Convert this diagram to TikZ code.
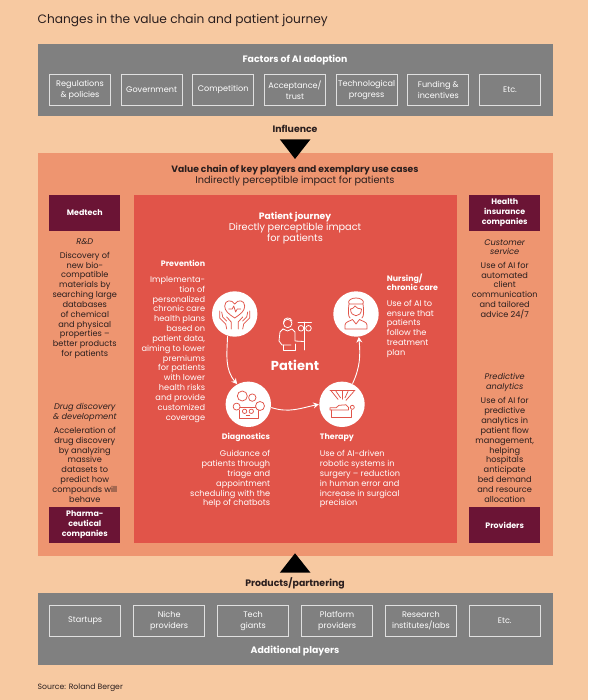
\documentclass[tikz,border=0pt]{standalone}
\usepackage{fontspec}
\setmainfont{Poppins}
\usetikzlibrary{arrows.meta}
\definecolor{pagebg}{HTML}{F7C9A1}
\definecolor{panelgray}{HTML}{808080}
\definecolor{chainorange}{HTML}{EE9570}
\definecolor{journeyred}{HTML}{E15449}
\definecolor{playermaroon}{HTML}{6B1435}
\definecolor{darktext}{HTML}{2A1E1E}
\newcommand{\leadsize}{\fontsize{9.75}{11.1}\selectfont}
\tikzset{
	factorbox/.style={draw=white!88!black, line width=1pt, text=white, align=center, inner sep=0pt,
		minimum width=61pt, minimum height=31pt, font=\fontsize{8.1}{11}\selectfont},
	partnerbox/.style={factorbox, minimum width=71.5pt},
	playerbox/.style={fill=playermaroon, text=white, align=center, inner sep=0pt,
		minimum width=71pt, minimum height=36.5pt, font=\fontsize{7.9}{10}\selectfont\bfseries},
	heading/.style={inner sep=0pt, align=center, font=\fontsize{9.35}{11}\selectfont\bfseries},
	steplabel/.style={inner sep=0pt, text=white, font=\fontsize{7.9}{9.8}\selectfont\bfseries},
	bodytext/.style={inner sep=0pt, font=\fontsize{8.2}{9.83}\selectfont},
	sidetext/.style={bodytext, align=center, text=darktext},
	stepcircle/.style={circle, fill=white, minimum size=45.4pt, inner sep=0pt, outer sep=0.5pt},
	iconline/.style={draw=journeyred, line width=0.75pt, line join=round, line cap=round},
	journeyarrow/.style={draw=white, line width=0.9pt, ->, >={Stealth[length=5.5pt,width=6pt,inset=1.8pt]}},
}
\begin{document}
\begin{tikzpicture}[x=1pt, y=-1pt]
	\useasboundingbox (0,0) rectangle (588,700);
	\fill[pagebg] (0,0) rectangle (588,700);
	\node[anchor=west, inner sep=0pt, text=darktext, font=\fontsize{12.2}{15}\selectfont] (title) at (37.5,21) {Changes in the value chain and patient journey};

	% Factors of AI adoption
	\fill[panelgray] (37.5,44.3) rectangle (553,115.7);
	\node[heading, text=white] (factors) at (295,60) {Factors of AI adoption};
	\node[factorbox] (regulations) at (80,89.8) {Regulations\\\& policies};
	\node[factorbox] (government) at (151.6,89.8) {Government};
	\node[factorbox] (competition) at (223.2,89.8) {Competition};
	\node[factorbox] (acceptance) at (295,89.8) {Acceptance/\\trust};
	\node[factorbox] (technological) at (366.6,89.8) {Technological\\progress};
	\node[factorbox] (funding) at (438.3,89.8) {Funding \&\\incentives};
	\node[factorbox] (etcfactor) at (510,89.8) {Etc.};

	% Value chain
	\fill[chainorange] (37.5,153) rectangle (553,556);
	\node[heading, text=darktext] (influence) at (295,128.5) {Influence};
	\fill[black] (279.8,139.3) -- (310.5,139.3) -- (295,159) -- cycle;
	\node[inner sep=0pt, align=center, text=darktext, font=\leadsize] (chain) at (295,175.8) {{\fontsize{9.2}{11.1}\selectfont\bfseries Value chain of key players and exemplary use cases}\\Indirectly perceptible impact for patients};

	% Key players
	\node[playerbox] (medtech) at (84.8,212.8) {Medtech};
	\node[playerbox] (pharma) at (84.8,525) {Pharma-\\ceutical\\companies};
	\node[playerbox] (insurance) at (504.7,212.8) {Health\\insurance\\companies};
	\node[playerbox] (providers) at (504.7,525) {Providers};

	% Left column
	\node[sidetext] (rnd) at (84.8,241.7) {\itshape R\&D};
	\node[sidetext] (rndtext) at (84.8,305.3) {Discovery of\\new bio-\\compatible\\materials by\\searching large\\databases\\of chemical\\and physical\\properties --\\better products\\for patients};
	\node[sidetext] (drug) at (84.8,412.7) {\itshape Drug discovery\\\itshape \& development};
	\node[sidetext] (drugtext) at (84.8,464.8) {Acceleration of\\drug discovery\\by analyzing\\massive\\datasets to\\predict how\\compounds will\\behave};

	% Right column
	\node[sidetext] (service) at (504.7,247.2) {\itshape Customer\\\itshape service};
	\node[sidetext] (servicetext) at (504.7,290.4) {Use of AI for\\automated\\client\\communication\\and tailored\\advice 24/7};
	\node[sidetext] (predictive) at (504.7,382.6) {\itshape Predictive\\\itshape analytics};
	\node[sidetext] (predictivetext) at (504.7,449.9) {Use of AI for\\predictive\\analytics in\\patient flow\\management,\\helping\\hospitals\\anticipate\\bed demand\\and resource\\allocation};

	% Patient journey
	\fill[journeyred] (133.5,194.7) rectangle (456.7,543);
	\node[inner sep=0pt, align=center, text=white, font=\leadsize] (journey) at (295,228.2) {{\fontsize{9.2}{11.1}\selectfont\bfseries Patient journey}\\Directly perceptible impact\\for patients};

	% Journey steps
	\node[stepcircle] (prevention) at (234.7,314) {};
	\node[stepcircle] (nursing) at (356,314) {};
	\node[stepcircle] (diagnostics) at (248.3,404.3) {};
	\node[stepcircle] (therapy) at (342,404.3) {};
	\draw[journeyarrow] (prevention.-108) to[out=-92,in=130] (diagnostics.119);
	\draw[journeyarrow] (diagnostics.-8) to[out=-18,in=-168] (therapy.180);
	\draw[journeyarrow] (therapy.63) to[out=65,in=-85] (nursing.-83);

	% Step labels
	\node[steplabel, anchor=east] (preventionlabel) at (205.3,263) {Prevention};
	\node[bodytext, anchor=east, align=right, text=white] (preventiontext) at (205.3,349.3) {Implementa-\\tion of\\personalized\\chronic care\\health plans\\based on\\patient data,\\aiming to lower\\premiums\\for patients\\with lower\\health risks\\and provide\\customized\\coverage};
	\node[steplabel, anchor=west, align=left] (nursinglabel) at (386.7,282.2) {Nursing/\\chronic care};
	\node[bodytext, anchor=west, align=left, text=white] (nursingtext) at (386.7,328.8) {Use of AI to\\ensure that\\patients\\follow the\\treatment\\plan};
	\node[steplabel, anchor=east] (diagnosticslabel) at (270.3,437.7) {Diagnostics};
	\node[bodytext, anchor=east, align=right, text=white] (diagnosticstext) at (270.3,479.2) {Guidance of\\patients through\\triage and\\appointment\\scheduling with the\\help of  chatbots};
	\node[steplabel, anchor=west] (therapylabel) at (319.7,437.7) {Therapy};
	\node[bodytext, anchor=west, align=left, text=white] (therapytext) at (319.7,479.2) {Use of AI-driven\\robotic systems in\\surgery -- reduction\\in human error and\\increase in surgical\\precision};

	% Patient figure
	\node[inner sep=0pt, text=white, font=\fontsize{13}{16}\selectfont\bfseries] (patient) at (295,365) {Patient};
	\begin{scope}[white, line width=0.8pt, line join=round, line cap=round]
		\draw (287.7,323.5) circle (4.2);
		\draw (283.5,322.5) .. controls (283,317) and (291,316.5) .. (292,321);
		\draw (283,329) -- (280,332) -- (279,341) -- (282,345) -- (291,345);
		\draw (283,329) -- (287.5,331) -- (292,329) -- (295,332) -- (295,341) -- (303.5,341.5);
		\draw (283,345) -- (283,350) -- (295,350) -- (295,344);
		\draw (304.3,322) -- (304.3,350);
		\draw (298,322.5) -- (311.5,322.5);
		\draw (301,328.3) circle (2.8);
		\draw (308.5,328.3) circle (2.8);
	\end{scope}

	% Prevention icon
	\begin{scope}[shift={(234.7,314)}]
		\draw[iconline] (0,4) .. controls (-6,0) and (-10,-3) .. (-10,-8) .. controls (-10,-14) and (-3,-15) .. (0,-10) .. controls (3,-15) and (10,-14) .. (10,-8) .. controls (10,-3) and (6,0) .. (0,4);
		\draw[iconline] (-6,-5) -- (-2.5,-5) -- (-1,-8) -- (1,-2) -- (2.5,-5) -- (6,-5);
		\draw[iconline] (-15,-3) -- (-15,4) -- (-9,10) -- (-8,15);
		\draw[iconline] (-13,-2) -- (-12,3) -- (-8,7);
		\draw[iconline] (-3.5,15) -- (-3.5,8) -- (-8,3);
		\draw[iconline] (15,-3) -- (15,4) -- (9,10) -- (8,15);
		\draw[iconline] (13,-2) -- (12,3) -- (8,7);
		\draw[iconline] (3.5,15) -- (3.5,8) -- (8,3);
	\end{scope}

	% Nursing icon
	\begin{scope}[shift={(356,314)}]
		\draw[iconline] (-7,-10) .. controls (-9,-14) and (-4,-16) .. (0,-16) .. controls (4,-16) and (9,-14) .. (7,-10) -- cycle;
		\draw[iconline] (-5.5,-5) .. controls (-5.5,4) and (5.5,4) .. (5.5,-5) .. controls (3,-5) and (0,-6) .. (-1,-8) .. controls (-2,-6) and (-4,-5) .. (-5.5,-5);
		\draw[iconline] (-7,-10) .. controls (-8,-3) and (-8,2) .. (-6,4);
		\draw[iconline] (7,-10) .. controls (8,-3) and (8,2) .. (6,4);
		\draw[iconline] (-11,15) -- (-11,11) .. controls (-11,8) and (-6,7) .. (-3.5,5.5) -- (0,10) -- (3.5,5.5) .. controls (6,7) and (11,8) .. (11,11) -- (11,15) -- cycle;
	\end{scope}

	% Diagnostics icon
	\begin{scope}[shift={(248.3,404.3)}]
		\draw[iconline] (-6,-8.3) circle (5);
		\draw[iconline] (4,-6.7) circle (3.7);
		\draw[iconline] (-11.7,2.3) circle (3.5);
		\draw[iconline] (11.7,1.7) circle (4.5);
		\draw[iconline] (-9.3,5.8) -- (-9.3,14.3) -- (10,14.3) -- (10,6.2);
		\draw[iconline] (-8,3.3) -- (7.2,3.3);
		\draw[iconline] (-3.7,7) circle (2.2);
		\draw[iconline] (3,7) circle (2.2);
		\draw[iconline] (-2,11) -- (1.5,11);
	\end{scope}

	% Therapy icon
	\begin{scope}[shift={(342,404.3)}]
		\draw[iconline] (-12,-13.7) -- (13,-13.7);
		\draw[iconline] (-10.5,-13) -- (-4,-5);
		\draw[iconline] (-6,-13) -- (-1.5,-6.5);
		\draw[iconline] (0,-13) -- (0,-5);
		\draw[iconline] (6,-13) -- (3,-6.5);
		\draw[iconline] (12,-13) -- (4,-4);
		\draw[iconline] (-10.3,5.7) -- (-10.3,13.3) -- (9.7,13.3) -- (9.7,5.7);
		\draw[iconline] (-12,5.7) -- (-12,3.5) -- (-6,3.5) -- (-3,1) -- (4,0.5) -- (6.5,3) -- (6.5,5.7) -- cycle;
		\draw[iconline] (10.3,3) circle (2);
	\end{scope}

	% Additional players
	\fill[black] (295,553.3) -- (310.5,572.7) -- (279.8,572.7) -- cycle;
	\node[heading, text=darktext] (partnering) at (295,583.3) {Products/partnering};
	\fill[panelgray] (37.5,593.3) rectangle (553,664.7);
	\node[partnerbox] (startups) at (85.2,620.7) {Startups};
	\node[partnerbox] (niche) at (169.2,620.7) {Niche\\providers};
	\node[partnerbox] (tech) at (253.1,620.7) {Tech\\giants};
	\node[partnerbox] (platform) at (337.1,620.7) {Platform\\providers};
	\node[partnerbox] (research) at (420.9,620.7) {Research\\institutes/labs};
	\node[partnerbox] (etcplayer) at (504.8,620.7) {Etc.};
	\node[heading, text=white] (additional) at (295,650.7) {Additional players};

	\node[anchor=west, inner sep=0pt, text=darktext, font=\fontsize{7.7}{9}\selectfont] (source) at (37.5,687.3) {Source: Roland Berger};
\end{tikzpicture}
\end{document}
